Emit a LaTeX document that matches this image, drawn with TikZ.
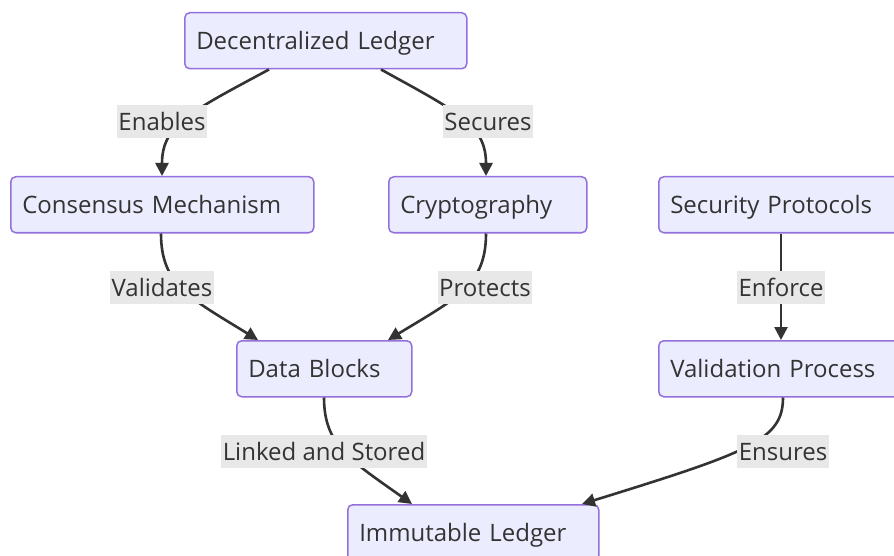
\documentclass[tikz,border=0pt]{standalone}
\usepackage{fontspec}
\setmainfont{Open Sans}
\usetikzlibrary{arrows.meta}
\definecolor{nodefill}{HTML}{ECECFF}
\definecolor{nodeline}{HTML}{9370DB}
\definecolor{ink}{HTML}{333333}
\definecolor{labelbg}{HTML}{E8E8E8}
\begin{document}
\begin{tikzpicture}[x=1pt,y=-1pt,
  every node/.style={font=\fontsize{24}{28}\selectfont, text=ink},
  box/.style={draw=nodeline, fill=nodefill, line width=1.5pt, rounded corners=5pt,
    minimum height=56pt, inner xsep=11.5pt, inner ysep=0pt, text height=24pt, text depth=6pt,
    align=left, anchor=north west},
  edge/.style={draw=ink, line width=2.6pt, -{Triangle[length=13pt,width=13pt]}},
  elabel/.style={fill=labelbg, inner xsep=1.5pt, inner ysep=0pt, text height=24pt, text depth=6pt,
    minimum height=33pt}]
\useasboundingbox (0,0) rectangle (894,556);
\clip (0,0) rectangle (894,556);
\fill[white] (0,0) rectangle (894,556);

\node[box, text width=259pt] (dl) at (184,12) {Decentralized Ledger};
\node[box, text width=280pt] (cm) at (10,176) {Consensus Mechanism};
\node[box, text width=175pt] (cr) at (388,176) {Cryptography};
\node[box, text width=227pt] (sp) at (658,176) {Security Protocols};
\node[box, text width=152pt] (db) at (236,340) {Data Blocks};
\node[box, text width=227pt] (vp) at (658,340) {Validation Process};
\node[box, text width=228pt] (il) at (347,504) {Immutable Ledger};

\draw[edge] ([xshift=85pt]dl.south west) .. controls (190,112) and (162,125) .. ([xshift=152pt]cm.north west);
\draw[edge] ([xshift=197pt]dl.south west) .. controls (458,112) and (486,125) .. ([xshift=98pt]cr.north west);
\draw[edge] ([xshift=151pt]cm.south west) .. controls (161,285) and (190,298) .. ([xshift=22pt]db.north west);
\draw[edge] ([xshift=98pt]cr.south west) .. controls (486,285) and (457,298) .. ([xshift=152pt]db.north west);
\draw[edge] ([xshift=123pt]sp.south west) -- ([xshift=123pt]vp.north west);
\draw[edge] ([xshift=88pt]db.south west) .. controls (324,445) and (350,460) .. ([xshift=65pt]il.north west);
\draw[edge] ([xshift=125pt]vp.south west) .. controls (783,440) and (750,452) .. ([xshift=235pt]il.north west);

\node[elabel] (l1) at (162,122) {Enables};
\node[elabel] (l2) at (488,122) {Secures};
\node[elabel] (l3) at (162,287) {Validates};
\node[elabel] (l4) at (485,287) {Protects};
\node[elabel] (l5) at (781,287) {Enforce};
\node[elabel] (l6) at (324,451) {Linked and Stored};
\node[elabel] (l7) at (783,451) {Ensures};
\end{tikzpicture}
\end{document}
